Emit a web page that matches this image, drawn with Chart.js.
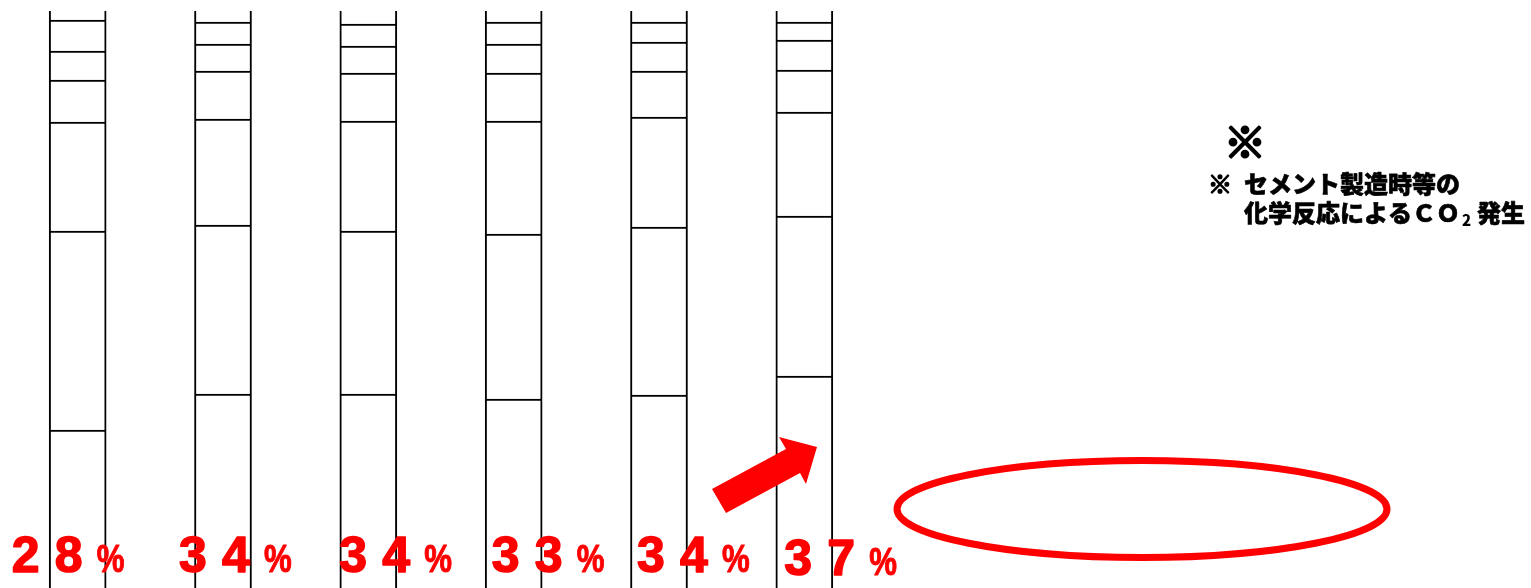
<!DOCTYPE html>
<html lang="ja">
<head>
  <meta charset="UTF-8">
  <title>CO2 share chart</title>
  <style>
    * { margin: 0; padding: 0; box-sizing: border-box; }
    body { background: #fff; overflow: hidden; }
    .wrap { width: 1531px; height: 588px; position: relative; }
  </style>
</head>
<body>
<div class="wrap">
  <canvas id="chart" width="1531" height="588"></canvas>
</div>

<script src="https://cdn.jsdelivr.net/npm/chart.js"></script>
<script>
  // categories (columns) and the share labels under them
  const categories = ['1', '2', '3', '4', '5', '6'];
  const shares = [28, 34, 34, 33, 34, 37];

  // stacked segment heights, bottom segment first (same units as the value axis)
  const seg1 = [158, 194, 194, 189, 193, 212];
  const seg2 = [199, 169, 163, 165, 168, 160];
  const seg3 = [109, 106, 110, 113, 110, 104];
  const seg4 = [42, 48, 48, 48, 46, 42];
  const seg5 = [29, 27, 27, 29, 29, 30];
  const seg6 = [31, 22, 22, 22, 20, 18];
  const seg7 = [30, 30, 30, 30, 30, 30];
  const axisMax = 577;

  // small nudges for the red share labels (layout only)
  const labelNudge = [
    { dx: -10, dy: 0 }, { dx: 12, dy: 0 }, { dx: 27, dy: 0 },
    { dx: 34, dy: 0 }, { dx: 34, dy: 0 }, { dx: 36, dy: 3 }
  ];

  const RED = '#ff0000';

  const decorations = {
    id: 'decorations',
    afterDatasetsDraw(chart) {
      const ctx = chart.ctx;
      const bars = chart.getDatasetMeta(0).data;
      ctx.save();

      // share labels
      ctx.fillStyle = RED;
      ctx.strokeStyle = RED;
      ctx.lineJoin = 'round';
      ctx.textBaseline = 'alphabetic';
      ctx.textAlign = 'left';
      shares.forEach((v, i) => {
        const cx = bars[i].x + labelNudge[i].dx;
        const base = 572 + labelNudge[i].dy;
        let x = cx - 56;
        ctx.font = 'bold 50px "Liberation Sans", Arial, sans-serif';
        ctx.lineWidth = 1.5;
        for (const d of String(v)) {
          ctx.fillText(d, x, base);
          ctx.strokeText(d, x, base);
          x += 43;
        }
        // narrower, taller percent sign
        ctx.save();
        ctx.translate(x - 1, base);
        ctx.scale(0.8, 1);
        ctx.font = 'bold 39px "Liberation Sans", Arial, sans-serif';
        ctx.lineWidth = 1;
        ctx.fillText('%', 0, 0);
        ctx.strokeText('%', 0, 0);
        ctx.restore();
      });

      // arrow
      ctx.beginPath();
      ctx.moveTo(712, 489);
      ctx.lineTo(786, 449);
      ctx.lineTo(779, 437);
      ctx.lineTo(817, 447);
      ctx.lineTo(806, 484);
      ctx.lineTo(800, 473);
      ctx.lineTo(726, 513);
      ctx.closePath();
      ctx.fill();

      // ellipse
      ctx.lineWidth = 7;
      ctx.beginPath();
      ctx.ellipse(1142, 509, 245, 48.5, 0, 0, Math.PI * 2);
      ctx.stroke();

      // note text
      const jp = '"Noto Sans CJK JP", "Noto Sans", sans-serif';
      ctx.fillStyle = '#000';
      ctx.strokeStyle = '#000';
      ctx.textBaseline = 'middle';
      ctx.font = '900 42px ' + jp;
      ctx.lineWidth = 2.5;
      ctx.fillText('※', 1224, 142);
      ctx.strokeText('※', 1224, 142);

      ctx.font = '900 24px ' + jp;
      ctx.lineWidth = 1.5;
      ctx.fillText('※', 1208, 184);
      ctx.strokeText('※', 1208, 184);
      ctx.lineWidth = 0.6;
      ctx.fillText('セメント製造時等の', 1244, 184);
      ctx.strokeText('セメント製造時等の', 1244, 184);
      let x = 1244;
      const part1 = '化学反応によるＣＯ';
      ctx.fillText(part1, x, 213);
      ctx.strokeText(part1, x, 213);
      x += ctx.measureText(part1).width;
      ctx.font = '900 15px ' + jp;
      ctx.fillText('2', x + 2, 220);
      x += 17;
      ctx.font = '900 24px ' + jp;
      ctx.fillText('発生', x, 213);
      ctx.strokeText('発生', x, 213);

      ctx.restore();
    }
  };

  const segs = [seg1, seg2, seg3, seg4, seg5, seg6, seg7];

  new Chart(document.getElementById('chart'), {
    type: 'bar',
    data: {
      labels: categories,
      datasets: segs.map((s, i) => ({
        label: 'segment ' + (i + 1),
        data: s,
        backgroundColor: '#ffffff',
        borderColor: '#000000',
        borderWidth: 2,
        barThickness: 57,
        clip: 0
      }))
    },
    options: {
      responsive: false,
      animation: false,
      layout: { padding: { left: 5, right: 654, top: 11, bottom: 0 } },
      plugins: {
        legend: { display: false },
        tooltip: { enabled: false }
      },
      scales: {
        x: { stacked: true, display: false, offset: true },
        y: { stacked: true, display: false, min: 0, max: axisMax }
      }
    },
    plugins: [decorations]
  });
</script>
</body>
</html>
